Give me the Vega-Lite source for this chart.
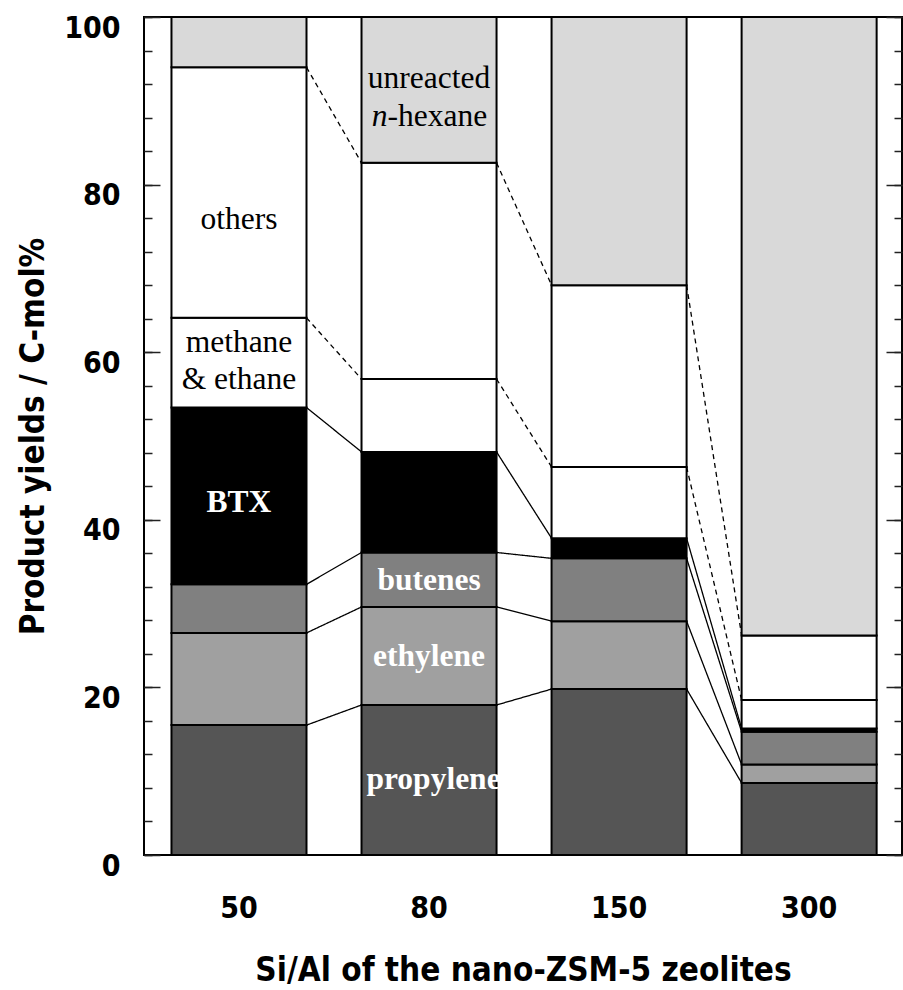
{
  "$schema": "https://vega.github.io/schema/vega-lite/v6.json",
  "width": 758,
  "height": 838,
  "autosize": {"type": "none"},
  "padding": {"left": 144, "top": 17, "right": 1, "bottom": 135},
  "background": "white",
  "config": {
    "view": {"stroke": "#000", "strokeWidth": 2},
    "axis": {"grid": false}
  },
  "data": {
    "values": [
      {"si": 50, "comp": "propylene", "value": 15.5},
      {"si": 50, "comp": "ethylene", "value": 11.0},
      {"si": 50, "comp": "butenes", "value": 5.8},
      {"si": 50, "comp": "BTX", "value": 21.1, "label": "BTX"},
      {"si": 50, "comp": "methane & ethane", "value": 10.7, "label": "methane\n& ethane"},
      {"si": 50, "comp": "others", "value": 29.9, "label": "others"},
      {"si": 50, "comp": "unreacted n-hexane", "value": 6.0},
      {"si": 80, "comp": "propylene", "value": 17.9, "label": "propylene"},
      {"si": 80, "comp": "ethylene", "value": 11.7, "label": "ethylene"},
      {"si": 80, "comp": "butenes", "value": 6.5, "label": "butenes"},
      {"si": 80, "comp": "BTX", "value": 12.0},
      {"si": 80, "comp": "methane & ethane", "value": 8.7},
      {"si": 80, "comp": "others", "value": 25.8},
      {"si": 80, "comp": "unreacted n-hexane", "value": 17.4, "label": "unreacted"},
      {"si": 150, "comp": "propylene", "value": 19.8},
      {"si": 150, "comp": "ethylene", "value": 8.1},
      {"si": 150, "comp": "butenes", "value": 7.5},
      {"si": 150, "comp": "BTX", "value": 2.4},
      {"si": 150, "comp": "methane & ethane", "value": 8.5},
      {"si": 150, "comp": "others", "value": 21.7},
      {"si": 150, "comp": "unreacted n-hexane", "value": 32.0},
      {"si": 300, "comp": "propylene", "value": 8.6},
      {"si": 300, "comp": "ethylene", "value": 2.2},
      {"si": 300, "comp": "butenes", "value": 3.9},
      {"si": 300, "comp": "BTX", "value": 0.4},
      {"si": 300, "comp": "methane & ethane", "value": 3.4},
      {"si": 300, "comp": "others", "value": 7.7},
      {"si": 300, "comp": "unreacted n-hexane", "value": 73.8}
    ]
  },
  "transform": [
    {"stack": "value", "groupby": ["si"], "as": ["y0", "y1"]},
    {"calculate": "(datum.y0 + datum.y1) / 2", "as": "mid"}
  ],
  "layer": [
    {
      "mark": {"type": "bar", "stroke": "#000", "strokeWidth": 2},
      "encoding": {
        "x": {
          "field": "si", "type": "ordinal",
          "scale": {"paddingInner": 0.2895, "paddingOuter": 0.139, "align": 0.52},
          "axis": {
            "orient": "bottom", "ticks": false, "domain": false, "labelAngle": 0,
            "labelFont": "DejaVu Sans Condensed, sans-serif",
            "labelFontSize": 30, "labelFontWeight": "bold", "labelColor": "#000",
            "labelPadding": 62, "labelBaseline": "alphabetic",
            "title": "Si/Al of the nano-ZSM-5 zeolites",
            "titleFont": "DejaVu Sans Condensed, sans-serif",
            "titleFontSize": 33, "titleFontWeight": "bold", "titleColor": "#000",
            "titleY": 125, "titleBaseline": "alphabetic"
          }
        },
        "y": {
          "field": "y0", "type": "quantitative",
          "scale": {"domain": [0, 100], "nice": false},
          "axis": {
            "orient": "left", "values": [0, 20, 40, 60, 80, 100],
            "offset": -16, "tickSize": 16, "tickColor": "#222", "tickWidth": 1.5,
            "domain": false,
            "labelFont": "DejaVu Sans Condensed, sans-serif",
            "labelFontSize": 30, "labelFontWeight": "bold", "labelColor": "#000",
            "labelPadding": 24, "labelBaseline": "alphabetic", "labelOffset": 20,
            "title": "Product yields / C-mol%",
            "titleFont": "DejaVu Sans Condensed, sans-serif",
            "titleFontSize": 33, "titleFontWeight": "bold", "titleColor": "#000",
            "titleX": -117, "titleBaseline": "alphabetic", "titleAngle": -90
          }
        },
        "y2": {"field": "y1"},
        "fill": {
          "field": "comp", "type": "nominal", "legend": null,
          "scale": {
            "domain": ["propylene", "ethylene", "butenes", "BTX", "methane & ethane", "others", "unreacted n-hexane"],
            "range": ["#555555", "#a0a0a0", "#808080", "#000000", "#ffffff", "#ffffff", "#d9d9d9"]
          }
        }
      }
    },
    {
      "transform": [
        {
          "window": [
            {"op": "lead", "field": "si", "as": "siNext"},
            {"op": "lead", "field": "y1", "as": "yNext"}
          ],
          "groupby": ["comp"],
          "sort": [{"field": "si", "order": "ascending"}]
        },
        {"filter": "datum.siNext != null && datum.comp !== 'unreacted n-hexane'"}
      ],
      "mark": {"type": "rule", "color": "#000", "strokeWidth": 1.3},
      "encoding": {
        "x": {"field": "si", "type": "ordinal", "bandPosition": 1, "axis": null},
        "x2": {"field": "siNext", "bandPosition": 0},
        "y": {
          "field": "y1", "type": "quantitative",
          "axis": {
            "orient": "right", "values": [0, 20, 40, 60, 80, 100],
            "offset": -16, "tickSize": 16, "tickColor": "#222", "tickWidth": 1.5,
            "domain": false, "labels": false, "title": null
          }
        },
        "y2": {"field": "yNext"},
        "strokeDash": {
          "condition": {"test": "datum.comp === 'methane & ethane' || datum.comp === 'others'", "value": [5, 4]},
          "value": [1, 0]
        }
      }
    },
    {
      "transform": [{"filter": "datum.comp === 'others' && datum.label != null"}],
      "mark": {"type": "text", "font": "Liberation Serif", "fontSize": 31.5, "color": "#000", "baseline": "alphabetic", "dy": 36},
      "encoding": {
        "x": {"field": "si", "type": "ordinal", "axis": null},
        "y": {
          "field": "mid", "type": "quantitative",
          "axis": {
            "orient": "left", "values": [0, 4, 8, 12, 16, 20, 24, 28, 32, 36, 40, 44, 48, 52, 56, 60, 64, 68, 72, 76, 80, 84, 88, 92, 96, 100],
            "offset": -8, "tickSize": 8, "tickColor": "#222", "tickWidth": 1.5,
            "domain": false, "labels": false, "title": null
          }
        },
        "text": {"field": "label"}
      }
    },
    {
      "transform": [{"filter": "datum.comp === 'methane & ethane' && datum.label != null"}],
      "mark": {"type": "text", "font": "Liberation Serif", "fontSize": 31.5, "color": "#000", "baseline": "middle", "lineBreak": "\n", "lineHeight": 37.6, "dy": -20},
      "encoding": {
        "x": {"field": "si", "type": "ordinal", "axis": null},
        "y": {
          "field": "mid", "type": "quantitative",
          "axis": {
            "orient": "right", "values": [0, 4, 8, 12, 16, 20, 24, 28, 32, 36, 40, 44, 48, 52, 56, 60, 64, 68, 72, 76, 80, 84, 88, 92, 96, 100],
            "offset": -8, "tickSize": 8, "tickColor": "#222", "tickWidth": 1.5,
            "domain": false, "labels": false, "title": null
          }
        },
        "text": {"field": "label"}
      }
    },
    {
      "transform": [{"filter": "datum.comp === 'BTX' && datum.label != null"}],
      "mark": {"type": "text", "font": "Liberation Serif", "fontSize": 31.5, "fontWeight": "bold", "color": "#fff", "baseline": "alphabetic", "dy": 16},
      "encoding": {
        "x": {"field": "si", "type": "ordinal", "axis": null},
        "y": {"field": "mid", "type": "quantitative", "axis": null},
        "text": {"field": "label"}
      }
    },
    {
      "transform": [{"filter": "(datum.comp === 'butenes' || datum.comp === 'ethylene') && datum.label != null"}],
      "mark": {"type": "text", "font": "Liberation Serif", "fontSize": 31.5, "fontWeight": "bold", "color": "#fff", "baseline": "alphabetic", "dy": 10},
      "encoding": {
        "x": {"field": "si", "type": "ordinal", "axis": null},
        "y": {"field": "mid", "type": "quantitative", "axis": null},
        "text": {"field": "label"}
      }
    },
    {
      "transform": [{"filter": "datum.comp === 'propylene' && datum.label != null"}],
      "mark": {"type": "text", "font": "Liberation Serif", "fontSize": 31.5, "fontWeight": "bold", "color": "#fff", "baseline": "alphabetic", "dx": 4.5, "dy": 9},
      "encoding": {
        "x": {"field": "si", "type": "ordinal", "axis": null},
        "y": {"field": "mid", "type": "quantitative", "axis": null},
        "text": {"field": "label"}
      }
    },
    {
      "transform": [{"filter": "datum.comp === 'unreacted n-hexane' && datum.label != null"}],
      "mark": {"type": "text", "font": "Liberation Serif", "fontSize": 31.5, "color": "#000", "baseline": "alphabetic", "dy": -2},
      "encoding": {
        "x": {"field": "si", "type": "ordinal", "axis": null},
        "y": {"field": "mid", "type": "quantitative", "axis": null},
        "text": {"field": "label"}
      }
    },
    {
      "transform": [{"filter": "datum.comp === 'unreacted n-hexane' && datum.label != null"}],
      "mark": {"type": "text", "font": "Liberation Serif", "fontSize": 31.5, "fontStyle": "italic", "color": "#000", "baseline": "alphabetic", "align": "right", "dx": -41.5, "dy": 36.3},
      "encoding": {
        "x": {"field": "si", "type": "ordinal", "axis": null},
        "y": {"field": "mid", "type": "quantitative", "axis": null},
        "text": {"value": "n"}
      }
    },
    {
      "transform": [{"filter": "datum.comp === 'unreacted n-hexane' && datum.label != null"}],
      "mark": {"type": "text", "font": "Liberation Serif", "fontSize": 31.5, "color": "#000", "baseline": "alphabetic", "align": "left", "dx": -41.5, "dy": 36.3},
      "encoding": {
        "x": {"field": "si", "type": "ordinal", "axis": null},
        "y": {"field": "mid", "type": "quantitative", "axis": null},
        "text": {"value": "-hexane"}
      }
    }
  ],
  "resolve": {"axis": {"x": "independent", "y": "independent"}}
}
